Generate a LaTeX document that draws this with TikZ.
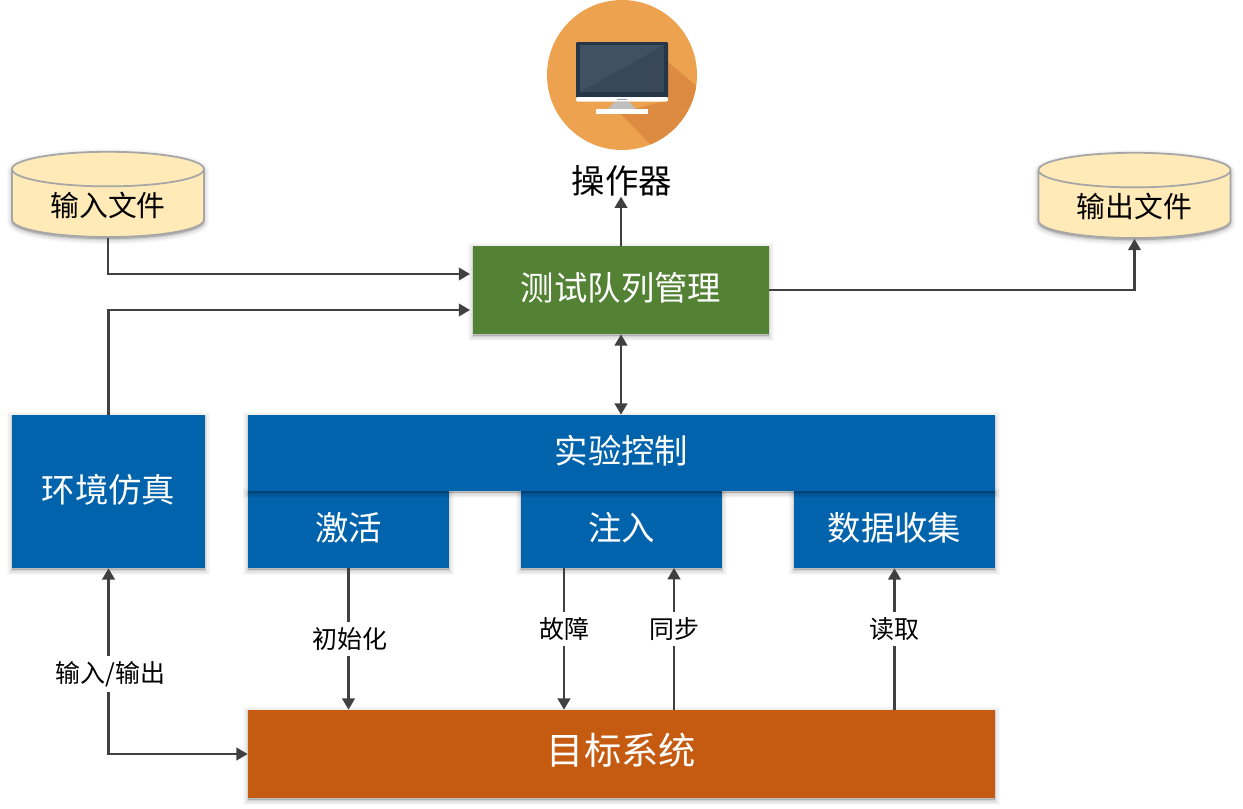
\documentclass[tikz,border=0pt]{standalone}
\usepackage{fontspec}
\setmainfont{Noto Sans CJK SC}
\usepackage{xcolor}
\usetikzlibrary{arrows.meta,positioning,shapes.geometric,shadows}
\definecolor{boxblue}{HTML}{0063AC}
\definecolor{boxgreen}{HTML}{548235}
\definecolor{boxorange}{HTML}{C55A11}
\definecolor{filefill}{HTML}{FFEAB8}
\definecolor{linegray}{HTML}{404040}
\definecolor{diskorange}{RGB}{237,162,79}
\definecolor{diskshade}{RGB}{221,139,64}
\tikzset{
  softshadow/.style={
    general shadow={shadow yshift=-1.2pt,fill=black,draw=black,line width=6pt,opacity=.025},
    general shadow={shadow yshift=-1.2pt,fill=black,draw=black,line width=4.4pt,opacity=.035},
    general shadow={shadow yshift=-1.2pt,fill=black,draw=black,line width=2.8pt,opacity=.05},
    general shadow={shadow yshift=-1.2pt,fill=black,draw=black,line width=1.2pt,opacity=.07}},
  bluebox/.style={fill=boxblue,text=white,inner sep=0pt,softshadow,text height=16pt,text depth=4pt,font=\fontsize{19}{22}\selectfont},
  filecyl/.style={cylinder,shape border rotate=90,aspect=.3,draw=black!35,line width=1pt,fill=filefill,
    minimum width=3.84cm,minimum height=1.7cm,inner sep=0pt,softshadow,text height=16.5pt,text depth=2pt,font=\fontsize{16.4}{20}\selectfont},
  link/.style={draw=linegray,line width=1.2pt,-{Triangle[length=6.4pt,width=7.2pt]}},
  biglink/.style={link,{Triangle[length=6.4pt,width=7.2pt]}-{Triangle[length=6.4pt,width=7.2pt]}},
  lab/.style={fill=white,inner xsep=1pt,inner ysep=3pt,font=\fontsize{14.2}{16}\selectfont}
}
\begin{document}
\begin{tikzpicture}
\useasboundingbox (0,0) rectangle (24.86,-16.16);
% display icon
\node[circle,fill=diskorange,minimum size=3cm,inner sep=0pt] (disp) at (12.44,-1.5) {};
\begin{scope}
\clip (disp.center) circle (1.5);
\fill[diskshade] (13.36,-1.24) -- (14.1,-1.86) -- (14.1,-2.6) -- (13.04,-2.92) -- (12.4,-2.26) -- (13.36,-2) -- cycle;
\end{scope}
\fill[color={rgb,255:red,38;green,53;blue,71},rounded corners=.6pt] (11.52,-.84) rectangle (13.36,-1.96);
\fill[color={rgb,255:red,56;green,72;blue,88}] (11.6,-.9) rectangle (13.28,-1.84);
\fill[color={rgb,255:red,64;green,81;blue,98}] (11.6,-.9) -- (13.28,-.9) -- (11.6,-1.84) -- cycle;
\fill[white,rounded corners=.6pt] (11.52,-1.94) rectangle (13.36,-2.03);
\fill[color={rgb,255:red,143;green,159;blue,189}] (12.34,-1.97) rectangle (12.54,-2);
\fill[black!25] (12.3,-2.03) -- (12.58,-2.03) -- (12.72,-2.18) -- (12.16,-2.18) -- cycle;
\fill[white] (11.92,-2.18) rectangle (12.96,-2.27);
\node[inner sep=0pt,font=\fontsize{19}{22}\selectfont] (oper) at (12.44,-3.62) {操作器};
% boxes
\node[filecyl] (infile) at (2.16,-4.07) {输入文件};
\node[filecyl] (outfile) at (22.69,-4.09) {输出文件};
\node[bluebox,fill=boxgreen,minimum width=5.92cm,minimum height=1.76cm] (queue) at (12.42,-5.8) {测试队列管理};
\node[bluebox,minimum width=3.86cm,minimum height=3.06cm] (env) at (2.17,-9.83) {环境仿真};
\node[bluebox,minimum width=4.02cm,minimum height=1.54cm] (act) at (6.97,-10.59) {激活};
\node[bluebox,minimum width=4.02cm,minimum height=1.54cm] (inj) at (12.43,-10.59) {注入};
\node[bluebox,minimum width=4.02cm,minimum height=1.54cm] (coll) at (17.89,-10.59) {数据收集};
\node[bluebox,minimum width=14.94cm,minimum height=1.52cm] (ctrl) at (12.43,-9.06) {实验控制};
\node[bluebox,fill=boxorange,minimum width=14.94cm,minimum height=1.76cm,font=\fontsize{21.2}{24}\selectfont] (target) at (12.43,-15.08) {目标系统};
% connectors
\coordinate (qin) at (9.4,-5.48);
\coordinate (qenv) at (9.4,-6.2);
\coordinate (fault) at (11.28,-11.36);
\coordinate (sync) at (13.48,-11.36);
\draw[link] (infile.south) |- (qin);
\draw[link] (env.north) |- (qenv);
\draw[link] (queue.east) -| (outfile.south);
\draw[link] (queue.north) -- (queue.north |- oper.south);
\draw[biglink] (queue.south) -- (queue.south |- ctrl.north);
\draw[biglink] (env.south) |- node[lab,pos=.285,xshift=1pt] (iolab) {输入/输出} (target.west);
\draw[link] (act.south) -- node[lab,pos=.5,xshift=1pt] (initlab) {初始化} (act.south |- target.north);
\draw[link] (fault) -- node[lab,pos=.43] (faultlab) {故障} (fault |- target.north);
\draw[link] (sync |- target.north) -- node[lab,pos=.57] (synclab) {同步} (sync);
\draw[link] (coll.south |- target.north) -- node[lab,pos=.57] (readlab) {读取} (coll.south);
\end{tikzpicture}
\end{document}
